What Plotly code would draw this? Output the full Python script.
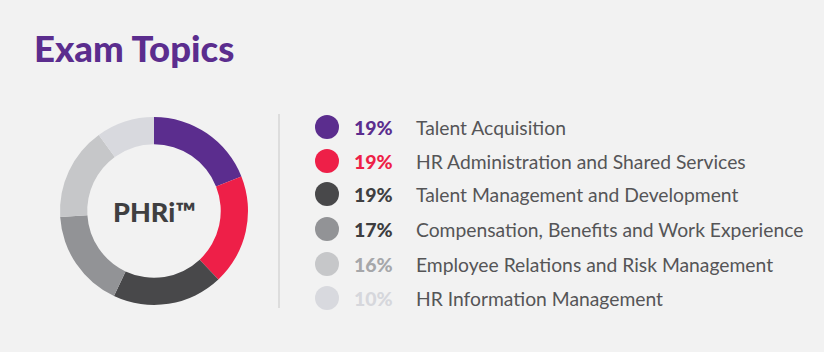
import plotly.graph_objects as go

topics = ["Talent Acquisition", "HR Administration and Shared Services",
          "Talent Management and Development",
          "Compensation, Benefits and Work Experience",
          "Employee Relations and Risk Management", "HR Information Management"]
shares = [19, 19, 19, 17, 16, 10]
colors = ["#5b2d8e", "#ee1f48", "#48484a", "#929396", "#c6c7c9", "#d8d9de"]
pct_colors = ["#5b2d8e", "#ee1f48", "#3f3f41", "#3d3d3f", "#a6a7aa", "#d6d7dc"]
pct_labels = [f"{v}%" for v in shares]

W, H = 824, 352
BG = "#f2f2f2"

fig = go.Figure()

# Donut
cx, cy, r = 154, 211, 94
fig.add_trace(go.Pie(
    values=shares, labels=topics, sort=False, direction="clockwise", rotation=0,
    hole=0.71, marker=dict(colors=colors, line=dict(width=0)),
    textinfo="none", hoverinfo="label+percent", showlegend=False,
    domain=dict(x=[(cx - r) / W, (cx + r) / W], y=[(H - cy - r) / H, (H - cy + r) / H]),
))

# Legend rows
row_y = [127, 161, 194, 229, 264, 298]
fig.add_trace(go.Scatter(
    x=[327] * len(topics), y=row_y, mode="markers",
    marker=dict(size=24, color=colors, line=dict(width=0)),
    hoverinfo="skip", showlegend=False, xaxis="x", yaxis="y",
))

annotations = []
for i, (p, t) in enumerate(zip(pct_labels, topics)):
    annotations.append(dict(x=352, y=row_y[i], xref="x", yref="y", text=p,
                            showarrow=False, xanchor="left", yanchor="middle",
                            font=dict(family="Lato", size=19.5, weight=900, color=pct_colors[i])))
    annotations.append(dict(x=414, y=row_y[i], xref="x", yref="y", text=t,
                            showarrow=False, xanchor="left", yanchor="middle",
                            font=dict(family="Lato", size=19.3, color="#555557")))

annotations.append(dict(x=cx, y=cy, xref="x", yref="y", text="PHRi™",
                        showarrow=False, xanchor="center", yanchor="middle",
                        font=dict(family="Lato", size=27, weight=900, color="#3f3f41")))
annotations.append(dict(x=32, y=48, xref="x", yref="y", text="Exam Topics",
                        showarrow=False, xanchor="left", yanchor="middle",
                        font=dict(family="Lato", size=36.5, weight=900, color="#5b2d8e")))

fig.update_layout(
    width=W, height=H, margin=dict(l=0, r=0, t=0, b=0),
    paper_bgcolor=BG, plot_bgcolor="rgba(0,0,0,0)",
    xaxis=dict(range=[0, W], visible=False, fixedrange=True),
    yaxis=dict(range=[H, 0], visible=False, fixedrange=True),
    annotations=annotations,
    shapes=[dict(type="line", xref="x", yref="y", x0=279, x1=279, y0=114, y1=308,
                 line=dict(color="#d6d6d6", width=1.5))],
)

fig.write_html("out.html")
